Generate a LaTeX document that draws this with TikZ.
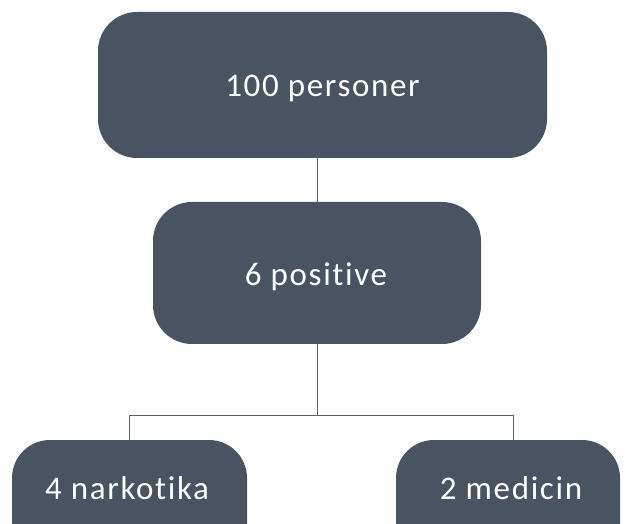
\documentclass[tikz,border=0pt]{standalone}
\usepackage{fontspec}
\setmainfont{Carlito}[LetterSpace=5,Ligatures={NoCommon,NoRequired}]
\definecolor{boxfill}{RGB}{74,83,98}
\definecolor{linecol}{RGB}{95,95,95}
\begin{document}
\begin{tikzpicture}[x=1pt,y=-1pt,
  boxnode/.style={draw=none,fill=boxfill,rounded corners=39pt,inner sep=0pt},
  txt/.style={anchor=base,text=white,inner sep=0pt,font=\fontsize{33}{39}\selectfont},
  conn/.style={draw=linecol,line width=1pt}]
\useasboundingbox (0,0) rectangle (625,524);
\clip (0,0) rectangle (625,524);
\node[boxnode,minimum width=449pt,minimum height=146pt] (top) at (322.5,85) {};
\node[boxnode,minimum width=328pt,minimum height=142pt] (mid) at (317,273) {};
\node[boxnode,minimum width=235pt,minimum height=130pt,rounded corners=38pt] (left) at (129.5,505) {};
\node[boxnode,minimum width=224pt,minimum height=130pt,rounded corners=38pt] (right) at (508,505) {};
\node[txt] (ttop) at (322.5,97) {100 personer};
\node[txt] (tmid) at (316,286) {6 positive};
\node[txt] (tleft) at (127,500) {4 narkotika};
\node[txt] (tright) at (511,500) {2 medicin};
\coordinate (bus) at (317,415);
\draw[conn] (mid.north |- top.south) -- (mid.north);
\draw[conn] (mid.south) -- (bus);
\draw[conn] (bus) -| (left.north);
\draw[conn] (bus) -| ([xshift=5pt]right.north);
\end{tikzpicture}
\end{document}
